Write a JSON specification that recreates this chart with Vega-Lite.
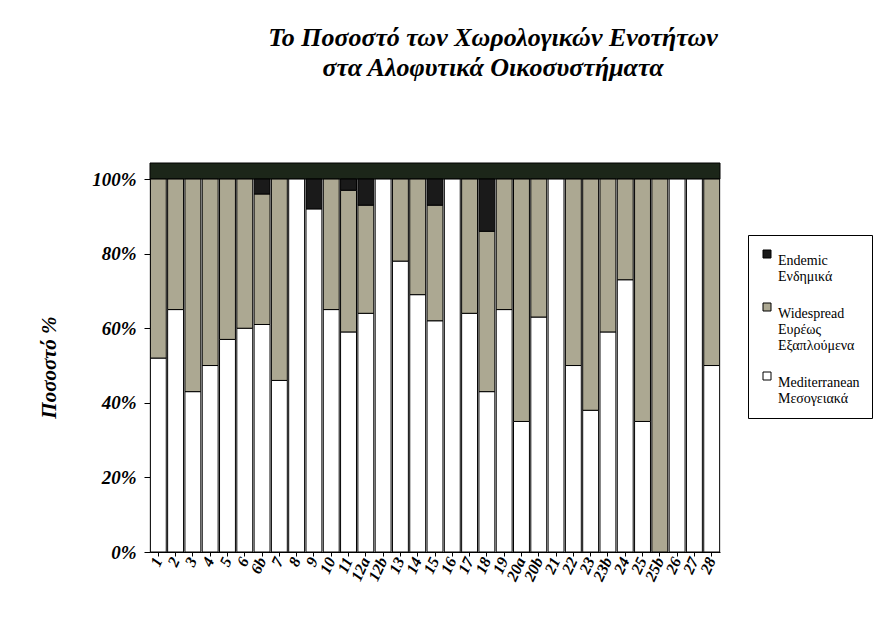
{
  "$schema": "https://vega.github.io/schema/vega-lite/v6.json",
  "width": 570,
  "height": 389,
  "autosize": {"type": "none"},
  "padding": {"left": 150, "top": 163, "right": 162, "bottom": 65},
  "background": "white",
  "config": {"view": {"stroke": null}, "legend": {"labelFont": "Liberation Serif"}},
  "title": {
    "text": ["Το Ποσοστό των Χωρολογικών Ενοτήτων", "στα Αλοφυτικά Οικοσυστήματα"],
    "font": "Liberation Serif",
    "fontStyle": "italic",
    "fontWeight": "bold",
    "fontSize": 26,
    "lineHeight": 30,
    "color": "black",
    "anchor": "middle",
    "dx": 58,
    "offset": 82
  },
  "layer": [
    {
      "data": {"values": [{}]},
      "mark": {"type": "rect", "color": "#1c2619", "stroke": "black", "strokeWidth": 1},
      "encoding": {"y": {"datum": 100}, "y2": {"datum": 104.3}}
    },
    {
      "data": {
        "values": [
          {"cat": "1", "type": "Mediterranean", "value": 52, "ord": 1},
          {"cat": "1", "type": "Widespread", "value": 48, "ord": 2},
          {"cat": "2", "type": "Mediterranean", "value": 65, "ord": 1},
          {"cat": "2", "type": "Widespread", "value": 35, "ord": 2},
          {"cat": "3", "type": "Mediterranean", "value": 43, "ord": 1},
          {"cat": "3", "type": "Widespread", "value": 57, "ord": 2},
          {"cat": "4", "type": "Mediterranean", "value": 50, "ord": 1},
          {"cat": "4", "type": "Widespread", "value": 50, "ord": 2},
          {"cat": "5", "type": "Mediterranean", "value": 57, "ord": 1},
          {"cat": "5", "type": "Widespread", "value": 43, "ord": 2},
          {"cat": "6", "type": "Mediterranean", "value": 60, "ord": 1},
          {"cat": "6", "type": "Widespread", "value": 40, "ord": 2},
          {"cat": "6b", "type": "Mediterranean", "value": 61, "ord": 1},
          {"cat": "6b", "type": "Widespread", "value": 35, "ord": 2},
          {"cat": "6b", "type": "Endemic", "value": 4, "ord": 3},
          {"cat": "7", "type": "Mediterranean", "value": 46, "ord": 1},
          {"cat": "7", "type": "Widespread", "value": 54, "ord": 2},
          {"cat": "8", "type": "Mediterranean", "value": 100, "ord": 1},
          {"cat": "9", "type": "Mediterranean", "value": 92, "ord": 1},
          {"cat": "9", "type": "Endemic", "value": 8, "ord": 3},
          {"cat": "10", "type": "Mediterranean", "value": 65, "ord": 1},
          {"cat": "10", "type": "Widespread", "value": 35, "ord": 2},
          {"cat": "11", "type": "Mediterranean", "value": 59, "ord": 1},
          {"cat": "11", "type": "Widespread", "value": 38, "ord": 2},
          {"cat": "11", "type": "Endemic", "value": 3, "ord": 3},
          {"cat": "12a", "type": "Mediterranean", "value": 64, "ord": 1},
          {"cat": "12a", "type": "Widespread", "value": 29, "ord": 2},
          {"cat": "12a", "type": "Endemic", "value": 7, "ord": 3},
          {"cat": "12b", "type": "Mediterranean", "value": 100, "ord": 1},
          {"cat": "13", "type": "Mediterranean", "value": 78, "ord": 1},
          {"cat": "13", "type": "Widespread", "value": 22, "ord": 2},
          {"cat": "14", "type": "Mediterranean", "value": 69, "ord": 1},
          {"cat": "14", "type": "Widespread", "value": 31, "ord": 2},
          {"cat": "15", "type": "Mediterranean", "value": 62, "ord": 1},
          {"cat": "15", "type": "Widespread", "value": 31, "ord": 2},
          {"cat": "15", "type": "Endemic", "value": 7, "ord": 3},
          {"cat": "16", "type": "Mediterranean", "value": 100, "ord": 1},
          {"cat": "17", "type": "Mediterranean", "value": 64, "ord": 1},
          {"cat": "17", "type": "Widespread", "value": 36, "ord": 2},
          {"cat": "18", "type": "Mediterranean", "value": 43, "ord": 1},
          {"cat": "18", "type": "Widespread", "value": 43, "ord": 2},
          {"cat": "18", "type": "Endemic", "value": 14, "ord": 3},
          {"cat": "19", "type": "Mediterranean", "value": 65, "ord": 1},
          {"cat": "19", "type": "Widespread", "value": 35, "ord": 2},
          {"cat": "20a", "type": "Mediterranean", "value": 35, "ord": 1},
          {"cat": "20a", "type": "Widespread", "value": 65, "ord": 2},
          {"cat": "20b", "type": "Mediterranean", "value": 63, "ord": 1},
          {"cat": "20b", "type": "Widespread", "value": 37, "ord": 2},
          {"cat": "21", "type": "Mediterranean", "value": 100, "ord": 1},
          {"cat": "22", "type": "Mediterranean", "value": 50, "ord": 1},
          {"cat": "22", "type": "Widespread", "value": 50, "ord": 2},
          {"cat": "23", "type": "Mediterranean", "value": 38, "ord": 1},
          {"cat": "23", "type": "Widespread", "value": 62, "ord": 2},
          {"cat": "23b", "type": "Mediterranean", "value": 59, "ord": 1},
          {"cat": "23b", "type": "Widespread", "value": 41, "ord": 2},
          {"cat": "24", "type": "Mediterranean", "value": 73, "ord": 1},
          {"cat": "24", "type": "Widespread", "value": 27, "ord": 2},
          {"cat": "25", "type": "Mediterranean", "value": 35, "ord": 1},
          {"cat": "25", "type": "Widespread", "value": 65, "ord": 2},
          {"cat": "25b", "type": "Widespread", "value": 100, "ord": 2},
          {"cat": "26", "type": "Mediterranean", "value": 100, "ord": 1},
          {"cat": "27", "type": "Mediterranean", "value": 100, "ord": 1},
          {"cat": "28", "type": "Mediterranean", "value": 50, "ord": 1},
          {"cat": "28", "type": "Widespread", "value": 50, "ord": 2}
        ]
      },
      "mark": {"type": "bar", "stroke": "black", "strokeWidth": 1},
      "encoding": {
        "x": {
          "field": "cat",
          "type": "nominal",
          "sort": null,
          "scale": {"paddingInner": 0.08, "paddingOuter": 0.02},
          "axis": {
            "title": null,
            "labelAngle": -65,
            "labelFont": "Liberation Serif",
            "labelFontStyle": "italic",
            "labelFontWeight": "bold",
            "labelFontSize": 16,
            "labelColor": "black",
            "labelPadding": 2,
            "domainColor": "black",
            "tickColor": "black",
            "tickSize": 4
          }
        },
        "y": {
          "field": "value",
          "type": "quantitative",
          "stack": "zero",
          "scale": {"domain": [0, 104.3], "nice": false},
          "axis": {
            "values": [0, 20, 40, 60, 80, 100],
            "labelExpr": "datum.value + '%'",
            "grid": false,
            "title": "Ποσοστό %",
            "titleFont": "Liberation Serif",
            "titleFontStyle": "italic",
            "titleFontWeight": "bold",
            "titleFontSize": 21,
            "titleColor": "black",
            "titleX": -101,
            "titleY": 204,
            "titleAngle": -90,
            "titleAlign": "center",
            "titleBaseline": "middle",
            "labelFont": "Liberation Serif",
            "labelFontStyle": "italic",
            "labelFontWeight": "bold",
            "labelFontSize": 19,
            "labelColor": "black",
            "labelPadding": 8,
            "domainColor": "black",
            "tickColor": "black",
            "tickSize": 6
          }
        },
        "color": {
          "field": "type",
          "type": "nominal",
          "scale": {
            "domain": ["Endemic", "Widespread", "Mediterranean"],
            "range": ["#1a1a1a", "#aca892", "#ffffff"]
          },
          "legend": {
            "title": null,
            "orient": "none",
            "legendX": 598,
            "legendY": 72,
            "labelExpr": "datum.label == 'Endemic' ? ['Endemic', 'Ενδημικά'] : datum.label == 'Widespread' ? ['Widespread', 'Ευρέως', 'Εξαπλούμενα'] : ['Mediterranean', 'Μεσογειακά']",
            "labelFont": "Liberation Serif",
            "labelFontSize": 14,
            "labelColor": "black",
            "labelLimit": 200,
            "symbolType": "square",
            "symbolSize": 64,
            "symbolStrokeColor": "black",
            "symbolStrokeWidth": 1,
            "symbolOpacity": 1,
            "strokeColor": "black",
            "fillColor": "white",
            "padding": 12,
            "rowPadding": 16,
            "labelBaseline": "top",
            "labelOffset": 4
          }
        },
        "order": {"field": "ord", "type": "quantitative"}
      }
    }
  ]
}
